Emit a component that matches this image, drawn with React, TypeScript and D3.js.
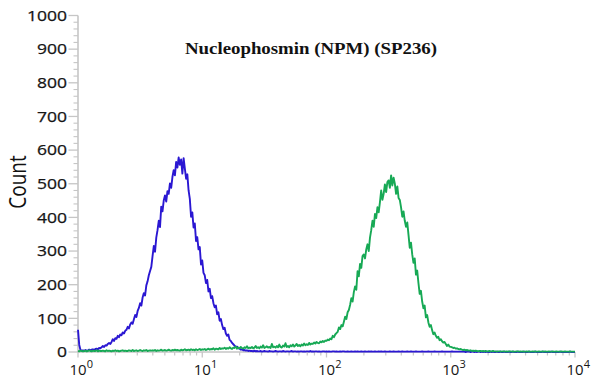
import * as d3 from "d3";

// counts per channel, channel i sits at 10^(i * channelStep)
const channelStep = 0.01;

const blueCounts = [
  66, 21, 6, 4, 5, 3, 6, 4, 5, 7, 5, 7, 8, 6, 9, 10, 8, 12, 11, 14,
  18, 15, 20, 19, 24, 27, 24, 30, 38, 33, 41, 39, 48, 44, 52, 50, 58, 55, 63, 66,
  75, 70, 82, 88, 84, 97, 110, 104, 122, 131, 145, 138, 162, 175, 168, 198, 210, 228, 241, 253,
  285, 315, 298, 340, 362, 390, 371, 432, 418, 450, 465, 447, 478, 470, 501, 488, 520, 540, 525, 565,
  548, 578, 556, 572, 530, 576, 545, 515, 528, 480, 455, 402, 415, 370, 382, 330, 341, 305, 312, 260,
  272, 235, 228, 205, 214, 180, 188, 160, 166, 145, 133, 138, 112, 118, 93, 98, 80, 68, 72, 55,
  48, 52, 36, 33, 27, 23, 19, 15, 16, 11, 10, 7, 8, 5, 6, 4, 5, 3, 4, 3,
  3, 2, 4, 2, 3, 2, 2, 3, 1, 2, 3, 2, 2, 1, 3, 2, 2, 1, 2, 3,
  2, 1, 2, 2, 1, 3, 2, 1, 2, 2, 1, 2, 3, 1, 2, 2, 1, 2, 1, 2,
  2, 1, 2, 1, 2, 2, 1, 3, 1, 2, 1, 2, 2, 1, 2, 1, 1, 2, 2, 1,
  2, 1, 2, 1, 1, 2, 2, 1, 2, 1, 1, 2, 1, 2, 2, 1, 1, 2, 1, 1,
  2, 1, 1, 2, 1, 2, 1, 1, 2, 1, 1, 2, 1, 1, 2, 1, 2, 1, 1, 2,
  1, 1, 2, 1, 2, 1, 1, 2, 1, 1, 1, 2, 1, 1, 2, 1, 1, 1, 2, 1,
  1, 2, 1, 1, 1, 2, 1, 1, 2, 1, 1, 1, 2, 1, 1, 1, 1, 2, 1, 1,
  1, 1, 2, 1, 1, 1, 1, 2, 1, 1, 1, 1, 1, 2, 1, 1, 1, 1, 1, 1,
  1, 2, 1, 1, 1, 1, 1, 1, 1, 1, 1, 1, 0, 1, 1, 1, 0, 1, 1, 0,
  1, 0, 1, 1, 0, 1, 0, 1, 0, 1, 0, 0, 1, 0, 1, 0, 0, 1, 0, 0,
  1, 0, 0, 1, 0, 0, 0, 1, 0, 0, 1, 0, 0, 0, 1, 0, 0, 0, 0, 1,
  0, 0, 0, 1, 0, 0, 0, 0, 1, 0, 0, 0, 0, 0, 1, 0, 0, 0, 0, 0,
  0, 1, 0, 0, 0, 0, 0, 0, 1, 0, 0, 0, 0, 0, 0, 0, 1, 0, 0, 0,
  0,
];

const greenCounts = [
  3, 2, 4, 3, 2, 3, 4, 2, 3, 5, 3, 2, 4, 3, 3, 5, 2, 4, 3, 3,
  4, 3, 2, 5, 3, 4, 3, 2, 4, 3, 5, 3, 4, 2, 3, 4, 5, 3, 4, 3,
  3, 5, 4, 3, 6, 3, 4, 5, 3, 4, 6, 4, 3, 5, 4, 6, 3, 4, 5, 4,
  5, 4, 6, 3, 5, 4, 5, 7, 4, 5, 6, 4, 5, 7, 5, 4, 6, 5, 7, 5,
  6, 5, 4, 7, 5, 6, 8, 5, 6, 7, 5, 8, 6, 7, 5, 8, 6, 7, 9, 6,
  8, 7, 9, 6, 8, 10, 7, 9, 8, 11, 7, 10, 9, 8, 12, 9, 11, 10, 13, 9,
  12, 10, 14, 11, 9, 13, 12, 16, 10, 13, 11, 15, 12, 10, 14, 12, 17, 11, 13, 12,
  15, 11, 13, 18, 12, 14, 11, 16, 13, 20, 12, 14, 17, 13, 15, 12, 24, 14, 16, 13,
  18, 14, 22, 15, 13, 19, 16, 26, 15, 18, 14, 20, 17, 22, 16, 19, 24, 18, 21, 17,
  22, 19, 25, 20, 23, 21, 27, 22, 25, 24, 28, 25, 30, 27, 26, 31, 29, 33, 30, 34,
  33, 37, 35, 40, 38, 48, 44, 52, 56, 60, 73, 68, 80, 76, 90, 105, 98, 118, 125, 140,
  160, 150, 178, 195, 185, 240, 225, 262, 250, 285, 290, 278, 305, 320, 300, 340, 362, 390, 372, 410,
  398, 430, 415, 445, 480, 452, 470, 498, 475, 505, 510, 488, 525, 495, 518, 500, 470, 492, 458, 452,
  430, 402, 418, 390, 372, 385, 348, 310, 325, 290, 265, 278, 230, 242, 205, 173, 182, 150, 130, 138,
  103, 110, 88, 75, 80, 65, 53, 58, 48, 42, 45, 35, 38, 32, 28, 30, 24, 18, 22, 16,
  15, 14, 12, 13, 10, 11, 9, 8, 9, 7, 6, 7, 5, 6, 5, 4, 5, 3, 4, 3,
  4, 3, 2, 3, 3, 2, 3, 2, 3, 2, 2, 3, 2, 2, 3, 2, 2, 1, 2, 2,
  2, 1, 2, 2, 1, 2, 1, 2, 2, 1, 2, 1, 1, 2, 2, 1, 2, 1, 2, 1,
  1, 2, 1, 2, 1, 1, 2, 1, 2, 1, 1, 2, 1, 1, 2, 1, 2, 1, 1, 2,
  1, 1, 2, 1, 1, 2, 1, 1, 1, 2, 1, 1, 2, 1, 1, 1, 2, 1, 1, 1,
  1,
];

const yTickValues = [0, 100, 200, 300, 400, 500, 600, 700, 800, 900, 1000];
const xDecades = [0, 1, 2, 3, 4];
const title = "Nucleophosmin (NPM) (SP236)";
const yLabel = "Count";

const width = 600;
const height = 388;
const plotLeft = 78;
const plotRight = 575;
const plotTop = 15.5;
const plotBottom = 352;

const axisColor = "#c6c6c6";
const textColor = "#151515";
const blueColor = "#2a17d2";
const greenColor = "#17a955";

export default function App() {
  const x = d3.scaleLog().domain([1, 1e4]).range([plotLeft, plotRight]);
  const y = d3.scaleLinear().domain([0, 1000]).range([plotBottom, plotTop]);

  const line = d3
    .line<number>()
    .x((_, i) => x(Math.pow(10, i * channelStep)))
    .y((d) => y(d));

  const xMinor = x.ticks().filter((v) => !Number.isInteger(Math.log10(v)));
  const yMinor = y.ticks(50).filter((v) => v % 100 !== 0);

  return (
    <svg
      width={width}
      height={height}
      style={{ position: "absolute", left: 0, top: 0, background: "#fff" }}
    >
      <rect width={width} height={height} fill="#fff" />

      {/* y axis */}
      <line x1={plotLeft} x2={plotLeft} y1={plotTop} y2={plotBottom} stroke={axisColor} strokeWidth={1.6} />
      {yMinor.map((v) => (
        <line key={"ym" + v} x1={plotLeft - 4.5} x2={plotLeft} y1={y(v)} y2={y(v)} stroke={axisColor} strokeWidth={1.1} />
      ))}
      {yTickValues.map((v) => (
        <g key={"y" + v}>
          <line x1={plotLeft - 9.5} x2={plotLeft} y1={y(v)} y2={y(v)} stroke={axisColor} strokeWidth={1.3} />
          <text
            x={67}
            y={y(v) + 5.2}
            textAnchor="end"
            fontFamily="'Open Sans', sans-serif"
            fontSize={14.5}
            fill={textColor}
            stroke={textColor}
            strokeWidth={0.25}
            textLength={String(v).length * 10}
            lengthAdjust="spacingAndGlyphs"
          >
            {v}
          </text>
        </g>
      ))}

      {/* x axis */}
      <line x1={plotLeft} x2={plotRight} y1={plotBottom} y2={plotBottom} stroke={axisColor} strokeWidth={1.6} />
      {xMinor.map((v) => (
        <line key={"xm" + v} x1={x(v)} x2={x(v)} y1={plotBottom} y2={plotBottom + 3.5} stroke={axisColor} strokeWidth={1.2} />
      ))}
      {xDecades.map((d) => {
        const px = x(Math.pow(10, d));
        return (
          <g key={"x" + d}>
            <line x1={px} x2={px} y1={plotBottom} y2={plotBottom + 5.5} stroke={axisColor} strokeWidth={1.3} />
            <text x={px} y={374.5} textAnchor="middle" fontFamily="'Open Sans', sans-serif" fontSize={15} fill={textColor}>
              10
            </text>
            <text x={px + 8.8} y={368} textAnchor="start" fontFamily="'Open Sans', sans-serif" fontSize={11} fill={textColor}>
              {d}
            </text>
          </g>
        );
      })}

      {/* histograms */}
      <path d={line(blueCounts) ?? ""} fill="none" stroke={blueColor} strokeWidth={1.9} strokeLinejoin="round" />
      <path d={line(greenCounts) ?? ""} fill="none" stroke={greenColor} strokeWidth={1.9} strokeLinejoin="round" />

      {/* labels */}
      <text
        x={311}
        y={54}
        textAnchor="middle"
        fontFamily="'Liberation Serif', serif"
        fontWeight="bold"
        fontSize={16.5}
        fill="#111"
        textLength={252}
        lengthAdjust="spacingAndGlyphs"
      >
        {title}
      </text>
      <text
        transform="translate(26,182) scale(1.2,1) rotate(-90)"
        textAnchor="middle"
        fontFamily="'Open Sans', sans-serif"
        fontSize={19}
        fill="#111"
      >
        {yLabel}
      </text>
    </svg>
  );
}
